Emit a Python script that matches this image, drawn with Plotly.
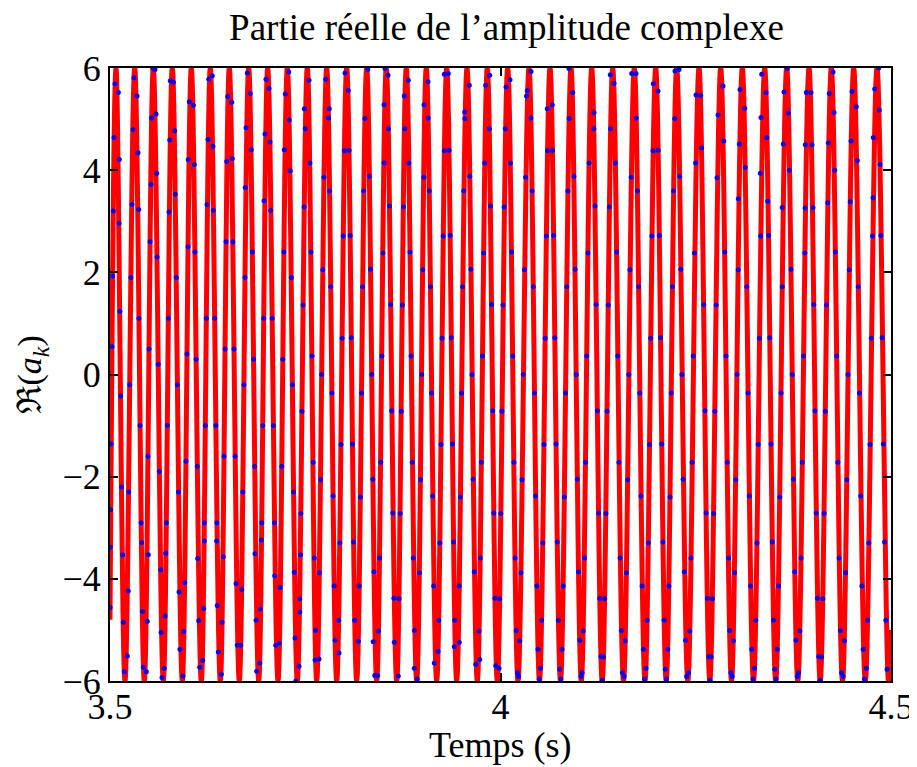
import plotly.graph_objects as go

# ---------------- Red curve: extrema times (s) ----------------
peak_t = [3.50768, 3.53163, 3.55544, 3.57977, 3.60410, 3.62843, 3.65275, 3.67759, 3.70192, 3.72702,
          3.75263, 3.77746, 3.80307, 3.82868, 3.85378, 3.87939, 3.90499, 3.93111, 3.95711, 3.98310,
          4.00922, 4.03649, 4.06338, 4.09027, 4.11677, 4.14366, 4.17132, 4.19872, 4.22561, 4.25416,
          4.28195, 4.30961, 4.33828, 4.36645, 4.39501, 4.42356, 4.45224, 4.48207]
trough_t = [3.51921, 3.54392, 3.56825, 3.59257, 3.61690, 3.64123, 3.66556, 3.69040, 3.71511, 3.73982,
            3.76466, 3.79027, 3.81588, 3.84149, 3.86709, 3.89270, 3.91831, 3.94392, 3.97029, 3.99590,
            4.02241, 4.04994, 4.07682, 4.10346, 4.13022, 4.15749, 4.18502, 4.21216, 4.23982, 4.26799,
            4.29577, 4.32394, 4.35237, 4.38067, 4.40934, 4.43790, 4.46710, 4.49680]
peak_v = 6.0
trough_v = -6.0
start_t, start_v = 3.5, -4.8
end_t, end_v = 4.5, -5.0

# ---------------- Blue dots (time s, value), read / ----------------
dots_top_left_t = [3.5064, 3.5107, 3.5307, 3.5346, 3.5546, 3.5576, 3.5772, 3.5811, 3.6016, 3.6067,
                   3.6264, 3.6310, 3.6507, 3.6558, 3.6758, 3.6796, 3.6997, 3.7036, 3.7245, 3.7288, 3.7488,
                   3.50512, 3.51191, 3.50423, 3.52945, 3.53585, 3.52817, 3.53675, 3.55339, 3.55890, 3.55980,
                   3.55250, 3.57644, 3.58284, 3.58361, 3.57554, 3.60026, 3.60794, 3.62548, 3.63188, 3.62420,
                   3.63227, 3.64942, 3.65659, 3.67414, 3.68092, 3.67324, 3.69846, 3.70487, 3.69718, 3.70576,
                   3.72958, 3.72318, 3.73086,
                   3.50077, 3.50154, 3.50256, 3.50333, 3.51152, 3.51268, 3.51370]
dots_top_left_v = [5.69, 5.52, 5.81, 5.45, 6.0, 5.97, 5.75, 5.72, 5.34, 5.27,
                   5.78, 5.85, 5.44, 5.33, 5.90, 5.50, 5.78, 5.60, 5.49, 5.92, 5.20,
                   4.64, 4.21, 3.20, 4.79, 4.34, 3.33, 3.23, 5.02, 5.10, 3.94,
                   3.72, 4.59, 4.77, 3.53, 3.18, 4.21, 4.11, 4.60, 4.47, 3.33,
                   3.21, 4.17, 4.23, 4.83, 4.40, 3.66, 4.71, 4.55, 3.40, 3.21,
                   4.98, 4.40, 3.99,
                   -2.65, -1.36, 0.55, 1.93, 2.96, 1.24, -0.42]

dots_bottom_left_t = [3.5222, 3.5183, 3.5427, 3.5465, 3.5695, 3.5666, 3.5896, 3.5935, 3.6187, 3.6149,
                      3.6387, 3.6425, 3.6630, 3.6674, 3.6878, 3.6917, 3.7122, 3.7168, 3.7378, 3.7420,
                      3.50026, 3.50013, 3.51626, 3.52343, 3.51703, 3.54059, 3.54904, 3.54136, 3.54776, 3.57132,
                      3.56492, 3.57042, 3.56530, 3.59565, 3.58835, 3.59437, 3.61229, 3.61997, 3.61357, 3.62074,
                      3.63662, 3.64507, 3.63739, 3.64341, 3.66133, 3.66863, 3.68566, 3.69372, 3.69244, 3.68694,
                      3.71088, 3.71767, 3.73598, 3.74400, 3.74300, 3.73687]
dots_bottom_left_v = [-5.51, -5.82, -5.73, -5.82, -5.75, -5.93, -5.38, -5.90, -5.60, -5.73,
                      -5.43, -5.87, -5.30, -5.30, -5.81, -5.65, -5.30, -5.26, -6.0, -5.71,
                      -3.38, -4.56, -3.53, -4.24, -4.85, -3.29, -3.53, -4.64, -4.83, -3.50,
                      -3.82, -4.73, -5.05, -4.07, -4.26, -5.03, -3.60, -4.58, -4.82, -3.26,
                      -3.26, -3.57, -4.52, -4.85, -4.09, -4.21, -3.51, -3.24, -4.59, -4.81,
                      -3.94, -4.17, -3.87, -3.53, -4.65, -5.16]

dots_mid_left_t = [3.51482, 3.52387, 3.52529, 3.52669, 3.53705, 3.53843, 3.53975, 3.54869, 3.54999, 3.55132,
                   3.56024, 3.56171, 3.56316, 3.57216, 3.57340, 3.57469, 3.58486, 3.58631, 3.58777, 3.59728,
                   3.59858, 3.59991, 3.60882, 3.61030, 3.61174, 3.62081, 3.62205, 3.62334, 3.63408, 3.63551,
                   3.63689, 3.64600, 3.64730, 3.64863, 3.65733, 3.65882, 3.66026, 3.67007, 3.67145, 3.67281,
                   3.68232, 3.68379, 3.68524, 3.69431, 3.69555, 3.69684, 3.70774, 3.70922, 3.71064, 3.71991,
                   3.72125, 3.72263, 3.73211, 3.73356, 3.73502]
dots_mid_left_v = [-2.2, -2.3, -0.2, 1.9, 1.1, -1.0, -2.9, -1.6, 0.5, 2.6,
                   2.3, 0.2, -1.9, -2.9, -1.0, 1.1, 1.9, -0.2, -2.3, -1.7,
                   0.4, 2.5, 2.4, 0.3, -1.8, -2.9, -1.0, 1.1, 1.1, -1.0,
                   -2.9, -1.6, 0.5, 2.6, 2.6, 0.5, -1.6, -2.3, -0.2, 1.9,
                   2.4, 0.3, -1.8, -2.9, -1.0, 1.1, 1.1, -1.0, -2.9, -1.8,
                   0.3, 2.4, 1.9, -0.2, -2.3]

dots_center_edges_t = [3.76248, 3.76761, 3.78809, 3.79321, 3.81792, 3.83700, 3.83900, 3.84277, 3.86402, 3.86914,
                       3.88963, 3.89347, 3.91524, 3.91997, 3.94085, 3.94725, 3.96825, 3.97337, 3.99385, 3.99808,
                       3.75480, 3.77618, 3.78079, 3.80089, 3.80512, 3.82996, 3.85211, 3.85595, 3.85083, 3.87682,
                       3.88194, 3.90205, 3.90717, 3.92804, 3.93316, 3.95416, 3.96005, 3.98105, 3.98617,
                       4.00704, 4.01216, 4.03335, 4.03431, 4.03905, 4.05993, 4.06633, 4.08771, 4.09245, 4.11972,
                       4.14059, 4.14533, 4.16799, 4.17350, 4.19565, 4.20166, 4.22343, 4.22855]
dots_center_edges_v = [-5.59, -5.57, -5.20, -5.45, -5.22, -5.23, -5.89, -5.89, -5.24, -5.90,
                       -5.75, -5.96, -5.65, -5.42, -5.33, -5.24, -5.67, -5.58, -5.70, -5.75,
                       5.76, 5.78, 5.20, 5.90, 5.56, 5.97, 5.99, 5.86, 5.28, 5.45,
                       5.76, 5.28, 5.73, 5.88, 5.89, 5.14, 5.66, 5.66, 5.86,
                       5.63, 5.77, 5.45, 5.56, 5.93, 5.20, 5.28, 5.99, 5.52, 5.13,
                       5.87, 5.70, 5.89, 5.89, 5.69, 5.55, 5.94, 5.97]

dots_center_a_t = [3.74288, 3.74430, 3.74573, 3.74715, 3.74858, 3.75001,
                   3.75593, 3.75736, 3.75878, 3.76021, 3.76164, 3.76306,
                   3.76820, 3.76963, 3.77106, 3.77248, 3.77391,
                   3.77982, 3.78125, 3.78268, 3.78410, 3.78553, 3.78695,
                   3.79288, 3.79430, 3.79573, 3.79716, 3.79858, 3.80001,
                   3.80613, 3.80755, 3.80898, 3.81040, 3.81183, 3.81326,
                   3.81918, 3.82061, 3.82203, 3.82346, 3.82489, 3.82631,
                   3.83222, 3.83365, 3.83508, 3.83650, 3.83793,
                   3.84385, 3.84528, 3.84671, 3.84813, 3.84956, 3.85098,
                   3.85639, 3.85781, 3.85924, 3.86067, 3.86209, 3.86352,
                   3.87015, 3.87157, 3.87300, 3.87442, 3.87585, 3.87728,
                   3.88269, 3.88412, 3.88554, 3.88697, 3.88840, 3.88982,
                   3.89624, 3.89767, 3.89910, 3.90052, 3.90195,
                   3.90735, 3.90878, 3.91021, 3.91163, 3.91306, 3.91448,
                   3.92092, 3.92234, 3.92377, 3.92520, 3.92662, 3.92805,
                   3.93417, 3.93559, 3.93702, 3.93844, 3.93987, 3.94130,
                   3.94722, 3.94865, 3.95007, 3.95150, 3.95293, 3.95435,
                   3.96065, 3.96208, 3.96351, 3.96493, 3.96636,
                   3.97265, 3.97408, 3.97551, 3.97693, 3.97836, 3.97978,
                   3.98571, 3.98713, 3.98856, 3.98999, 3.99141, 3.99284,
                   3.99896, 4.00038, 4.00181, 4.00323, 4.00466, 4.00609]
dots_center_a_v = [-4.39, -2.72, -0.72, 1.36, 3.28, 4.81,
                   4.14, 2.40, 0.36, -1.72, -3.59, -5.01,
                   -3.88, -2.06, 0.00, 2.05, 3.86,
                   5.02, 3.59, 1.72, -0.36, -2.38, -4.14,
                   -4.81, -3.30, -1.37, 0.71, 2.71, 4.38,
                   4.39, 2.72, 0.72, -1.36, -3.28, -4.81,
                   -4.14, -2.40, -0.36, 1.72, 3.59, 5.01,
                   3.88, 2.06, 0.00, -2.05, -3.86,
                   -5.02, -3.59, -1.72, 0.36, 2.38, 4.14,
                   4.81, 3.30, 1.37, -0.71, -2.71, -4.38,
                   -4.39, -2.72, -0.72, 1.36, 3.28, 4.81,
                   4.14, 2.40, 0.36, -1.72, -3.59, -5.01,
                   -3.88, -2.06, 0.00, 2.05, 3.86,
                   5.02, 3.59, 1.72, -0.36, -2.38, -4.14,
                   -4.81, -3.30, -1.37, 0.71, 2.71, 4.38,
                   4.39, 2.72, 0.72, -1.36, -3.28, -4.81,
                   -4.14, -2.40, -0.36, 1.72, 3.59, 5.01,
                   3.88, 2.06, 0.00, -2.05, -3.86,
                   -5.02, -3.59, -1.72, 0.36, 2.38, 4.14,
                   4.81, 3.30, 1.37, -0.71, -2.71, -4.38,
                   -4.39, -2.72, -0.72, 1.36, 3.28, 4.81]

dots_center_b_t = [4.01270, 4.01420, 4.01571, 4.01721, 4.01872, 4.02022, 4.02173,
                   4.02314, 4.02464, 4.02615, 4.02765, 4.02916, 4.03066, 4.03217,
                   4.03898, 4.04049, 4.04199, 4.04349, 4.04500, 4.04650, 4.04801, 4.04951,
                   4.05119, 4.05269, 4.05419, 4.05570, 4.05720, 4.05871, 4.06021,
                   4.06660, 4.06811, 4.06961, 4.07112, 4.07262, 4.07412, 4.07563,
                   4.07729, 4.07880, 4.08030, 4.08180, 4.08331, 4.08481, 4.08632, 4.08782,
                   4.09401, 4.09551, 4.09702, 4.09852, 4.10003, 4.10153, 4.10303,
                   4.10445, 4.10595, 4.10746, 4.10896, 4.11046, 4.11197, 4.11347,
                   4.11952, 4.12102, 4.12253, 4.12403, 4.12554, 4.12704, 4.12855, 4.13005,
                   4.13044, 4.13194, 4.13344, 4.13495, 4.13645, 4.13796, 4.13946, 4.14096,
                   4.14714, 4.14864, 4.15015, 4.15165, 4.15316, 4.15466, 4.15617,
                   4.15822, 4.15972, 4.16123, 4.16273, 4.16424, 4.16574, 4.16725,
                   4.17381, 4.17532, 4.17682, 4.17832, 4.17983, 4.18133, 4.18284, 4.18434,
                   4.18627, 4.18777, 4.18927, 4.19078, 4.19228, 4.19379, 4.19529,
                   4.20194, 4.20345, 4.20495, 4.20646, 4.20796, 4.20946, 4.21097,
                   4.21263, 4.21414, 4.21564, 4.21714, 4.21865, 4.22015, 4.22166, 4.22316,
                   4.22935, 4.23085, 4.23236, 4.23386, 4.23537, 4.23687, 4.23837,
                   4.24081, 4.24231, 4.24382, 4.24532, 4.24682, 4.24833, 4.24983]
dots_center_b_v = [4.14, 2.40, 0.36, -1.72, -3.59, -5.01, -5.84,
                   -5.91, -5.21, -3.88, -2.06, 0.00, 2.05, 3.86,
                   5.02, 3.59, 1.72, -0.36, -2.38, -4.14, -5.38, -5.96,
                   -5.75, -4.81, -3.30, -1.37, 0.71, 2.71, 4.38,
                   4.39, 2.72, 0.72, -1.36, -3.28, -4.81, -5.77,
                   -5.96, -5.38, -4.14, -2.40, -0.36, 1.72, 3.59, 5.01,
                   3.88, 2.06, 0.00, -2.05, -3.86, -5.20, -5.91,
                   -5.84, -5.02, -3.59, -1.72, 0.36, 2.38, 4.14,
                   4.81, 3.30, 1.37, -0.71, -2.71, -4.38, -5.52, -5.99,
                   -5.99, -5.53, -4.39, -2.72, -0.72, 1.36, 3.28, 4.81,
                   4.14, 2.40, 0.36, -1.72, -3.59, -5.01, -5.84,
                   -5.91, -5.21, -3.88, -2.06, 0.00, 2.05, 3.86,
                   5.02, 3.59, 1.72, -0.36, -2.38, -4.14, -5.38, -5.96,
                   -5.75, -4.81, -3.30, -1.37, 0.71, 2.71, 4.38,
                   4.39, 2.72, 0.72, -1.36, -3.28, -4.81, -5.77,
                   -5.96, -5.38, -4.14, -2.40, -0.36, 1.72, 3.59, 5.01,
                   3.88, 2.06, 0.00, -2.05, -3.86, -5.20, -5.91,
                   -5.84, -5.02, -3.59, -1.72, 0.36, 2.38, 4.14]

dots_top_right_t = [4.25032, 4.25634, 4.28489, 4.30666, 4.31267, 4.33444, 4.33995, 4.36722, 4.36300, 4.39155,
                    4.39757, 4.42573, 4.42100, 4.45006, 4.45557, 4.47913, 4.48425, 4.48502,
                    4.25762, 4.27849, 4.28579, 4.27721, 4.30576, 4.31344, 4.30448, 4.33355, 4.34084, 4.33265,
                    4.34212, 4.36850, 4.36210, 4.36978, 4.36082, 4.39027, 4.39885, 4.38988, 4.40013, 4.42702,
                    4.41972, 4.42791, 4.41895, 4.44878, 4.45685, 4.44789, 4.47733, 4.48592, 4.47695]
dots_top_right_v = [5.47, 5.46, 5.65, 5.58, 5.21, 5.88, 5.52, 5.99, 5.53, 5.52,
                    5.52, 5.92, 5.50, 5.54, 5.24, 5.59, 6.0, 5.18,
                    4.44, 5.08, 4.57, 3.85, 4.51, 4.05, 3.44, 5.03, 4.64, 3.94,
                    3.39, 5.12, 4.51, 4.00, 3.27, 4.50, 4.50, 3.26, 3.27, 5.13,
                    4.53, 4.00, 3.36, 4.57, 4.19, 3.38, 4.64, 4.11, 3.46]

dots_right_t = [4.26022, 4.26180, 4.26338, 4.26496, 4.26655, 4.26813,
                4.26822, 4.26980, 4.27138, 4.27296, 4.27454, 4.27613,
                4.28719, 4.28878, 4.29036, 4.29194, 4.29352, 4.29510,
                4.29654, 4.29812, 4.29970, 4.30128, 4.30287, 4.30445,
                4.31540, 4.31698, 4.31856, 4.32014, 4.32172, 4.32331,
                4.32525, 4.32683, 4.32841, 4.33000, 4.33158, 4.33316,
                4.34325, 4.34483, 4.34642, 4.34800, 4.34958, 4.35116,
                4.35287, 4.35445, 4.35603, 4.35761, 4.35920, 4.36078,
                4.37196, 4.37355, 4.37513, 4.37671, 4.37829, 4.37988,
                4.38171, 4.38329, 4.38487, 4.38646, 4.38804, 4.38962,
                4.40107, 4.40265, 4.40423, 4.40581, 4.40740, 4.40898,
                4.40957, 4.41115, 4.41273, 4.41431, 4.41589, 4.41748,
                4.42880, 4.43039, 4.43197, 4.43355, 4.43513, 4.43671,
                4.43867, 4.44025, 4.44183, 4.44341, 4.44500, 4.44658,
                4.45803, 4.45961, 4.46119, 4.46277, 4.46435, 4.46594,
                4.46841, 4.46999, 4.47157, 4.47316, 4.47474, 4.47632,
                4.48704, 4.48862, 4.49021, 4.49179, 4.49337, 4.49495]
dots_right_v = [1.37, -0.71, -2.71, -4.38, -5.52, -5.99,
                -5.99, -5.53, -4.39, -2.72, -0.72, 1.36,
                2.40, 0.36, -1.72, -3.59, -5.01, -5.84,
                -5.91, -5.21, -3.88, -2.06, 0.00, 2.05,
                1.72, -0.36, -2.38, -4.14, -5.38, -5.96,
                -5.75, -4.81, -3.30, -1.37, 0.71, 2.71,
                2.72, 0.72, -1.36, -3.28, -4.81, -5.77,
                -5.96, -5.38, -4.14, -2.40, -0.36, 1.72,
                2.06, 0.00, -2.05, -3.86, -5.20, -5.91,
                -5.84, -5.02, -3.59, -1.72, 0.36, 2.38,
                1.37, -0.71, -2.71, -4.38, -5.52, -5.99,
                -5.99, -5.53, -4.39, -2.72, -0.72, 1.36,
                2.40, 0.36, -1.72, -3.59, -5.01, -5.84,
                -5.91, -5.21, -3.88, -2.06, 0.00, 2.05,
                1.72, -0.36, -2.38, -4.14, -5.38, -5.96,
                -5.75, -4.81, -3.30, -1.37, 0.71, 2.71,
                2.72, 0.72, -1.36, -3.28, -4.81, -5.77]

x_ticks = [3.5, 4.0, 4.5]
x_ticktext = ["3.5", "4", "4.5"]
y_ticks = [-6, -4, -2, 0, 2, 4, 6]
y_ticktext = ["\u22126", "\u22124", "\u22122", "0", "2", "4", "6"]

# ---------------- assemble ----------------
pts = [(start_t, start_v), (end_t, end_v)]
pts += [(t, peak_v) for t in peak_t]
pts += [(t, trough_v) for t in trough_t]
pts.sort()
red_t = [p[0] for p in pts]
red_v = [p[1] for p in pts]

groups = [(dots_top_left_t, dots_top_left_v), (dots_bottom_left_t, dots_bottom_left_v),
          (dots_mid_left_t, dots_mid_left_v), (dots_center_edges_t, dots_center_edges_v),
          (dots_center_a_t, dots_center_a_v), (dots_center_b_t, dots_center_b_v),
          (dots_top_right_t, dots_top_right_v), (dots_right_t, dots_right_v)]
dot_t, dot_v = [], []
for gt, gv in groups:
    n = min(len(gt), len(gv))
    dot_t += gt[:n]
    dot_v += gv[:n]

FONT = "Liberation Serif"

fig = go.Figure()
fig.add_trace(go.Scatter(x=red_t, y=red_v, mode="lines",
                         line=dict(color="#ff0000", width=5, shape="spline", smoothing=1.0),
                         hoverinfo="skip", showlegend=False))
fig.add_trace(go.Scatter(x=dot_t, y=dot_v, mode="markers",
                         marker=dict(color="#0000ff", size=5),
                         showlegend=False))

fig.update_layout(
    width=909, height=759,
    margin=dict(l=102, r=26, t=60, b=86, autoexpand=False),
    paper_bgcolor="white", plot_bgcolor="white",
    title=dict(text="Partie réelle de l\u2019amplitude complexe", x=0.5484, xanchor="center",
               xref="container", yref="container", y=0.9914, yanchor="top",
               font=dict(family=FONT, size=37, color="black")),
    font=dict(family=FONT, color="black"),
    annotations=[
        dict(text="Temps (s)", xref="paper", yref="paper", x=0.4994, y=-0.1044,
             xanchor="center", yanchor="middle", showarrow=False,
             font=dict(family=FONT, size=36, color="black")),
        dict(text="\u211c(<i>a</i><sub><i>k</i></sub>)", xref="paper", yref="paper",
             x=-0.0999, y=0.50, xanchor="center", yanchor="middle", textangle=-90,
             showarrow=False, font=dict(family=FONT, size=34, color="black")),
    ],
)
fig.update_xaxes(range=[3.5, 4.5], tickvals=x_ticks, ticktext=x_ticktext, automargin=False,
                 ticks="inside", ticklen=8, tickwidth=1.5, tickcolor="black", ticklabelstandoff=-7,
                 showline=True, linecolor="black", linewidth=2, mirror="ticks",
                 showgrid=False, zeroline=False, tickfont=dict(family=FONT, size=36))
fig.update_yaxes(range=[-6, 6], tickvals=y_ticks, ticktext=y_ticktext, automargin=False,
                 ticks="inside", ticklen=8, tickwidth=1.5, tickcolor="black",
                 showline=True, linecolor="black", linewidth=2, mirror="ticks",
                 showgrid=False, zeroline=False, tickfont=dict(family=FONT, size=36))

fig.write_html("out.html")
